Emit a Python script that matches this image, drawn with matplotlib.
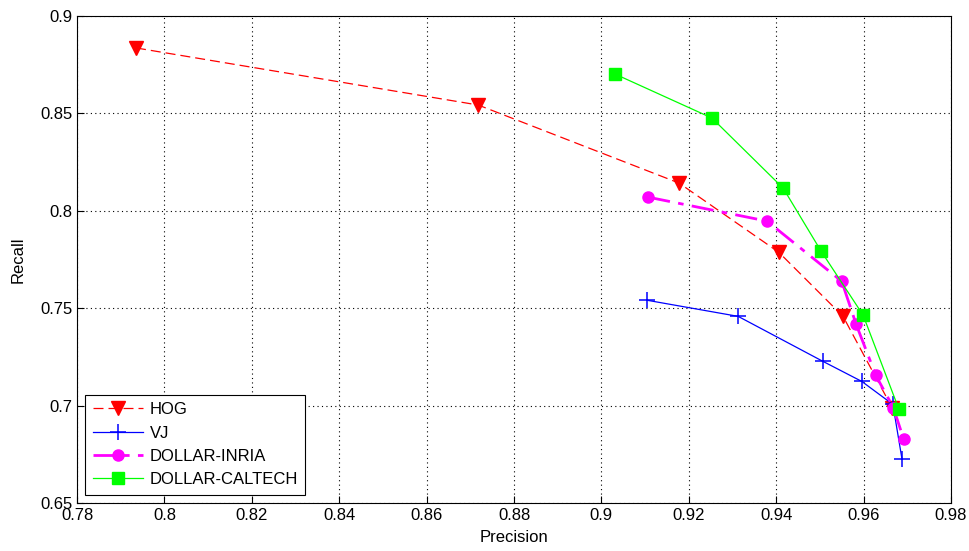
import numpy as np
import matplotlib.pyplot as plt

plt.rcParams['font.family'] = ['Liberation Sans', 'DejaVu Sans']

# precision / recall pairs
hog_p = [0.7935, 0.8718, 0.9178, 0.9406, 0.9553, 0.9665]
hog_r = [0.8836, 0.8543, 0.8142, 0.7787, 0.7458, 0.6990]

vj_p = [0.9104, 0.9313, 0.9507, 0.9596, 0.9667, 0.9688]
vj_r = [0.7541, 0.7458, 0.7227, 0.7124, 0.7006, 0.6724]

inria_p = [0.9107, 0.9379, 0.9550, 0.9583, 0.9628, 0.9668, 0.9692]
inria_r = [0.8070, 0.7947, 0.7638, 0.7417, 0.7155, 0.6990, 0.6826]

caltech_p = [0.9031, 0.9253, 0.9416, 0.9503, 0.9599, 0.9681]
caltech_r = [0.8702, 0.8476, 0.8116, 0.7792, 0.7464, 0.6980]

fig = plt.figure(figsize=(9.7, 5.51), dpi=100)
ax = fig.add_axes([0.0794, 0.0871, 0.9010, 0.8839])

ax.plot(hog_p, hog_r, color='#ff0000', ls=(0, (8, 4)), lw=0.9,
        marker='v', ms=10, mec='#ff0000', mfc='#ff0000', label='HOG')
ax.plot(vj_p, vj_r, color='#0000ff', ls='-', lw=0.9,
        marker='+', ms=11, mew=1.1, label='VJ')
ax.plot(inria_p, inria_r, color='#ff00ff', ls=(0, (8, 3, 2, 3)), lw=2,
        marker='o', ms=8, mec='#ff00ff', mfc='#ff00ff', label='DOLLAR-INRIA')
ax.plot(caltech_p, caltech_r, color='#00ff00', ls='-', lw=0.9,
        marker='s', ms=8.5, mec='#00ff00', mfc='#00ff00', label='DOLLAR-CALTECH')

ax.set_xlim(0.78, 0.98)
ax.set_ylim(0.65, 0.9)
ax.set_xticks(np.arange(0.78, 0.981, 0.02))
ax.set_yticks(np.arange(0.65, 0.901, 0.05))
ax.set_xticklabels(['0.78', '0.8', '0.82', '0.84', '0.86', '0.88', '0.9',
                    '0.92', '0.94', '0.96', '0.98'])
ax.set_yticklabels(['0.65', '0.7', '0.75', '0.8', '0.85', '0.9'])
ax.tick_params(direction='in', length=5, labelsize=12, color='black', width=0.8)
ax.grid(True, color='black', ls=(0, (1, 3)), lw=0.8)
for s in ax.spines.values():
    s.set_color('black')
    s.set_linewidth(0.8)

ax.set_xlabel('Precision', fontsize=12, labelpad=5)
ax.set_ylabel('Recall', fontsize=12, labelpad=10)

leg = ax.legend(loc='lower left', fontsize=12, fancybox=False, framealpha=1,
                edgecolor='black', borderaxespad=0.5, handlelength=3.0,
                labelspacing=0.5, borderpad=0.45, handletextpad=0.4)
leg.get_frame().set_linewidth(0.8)

fig.savefig('out.png', dpi=100)
